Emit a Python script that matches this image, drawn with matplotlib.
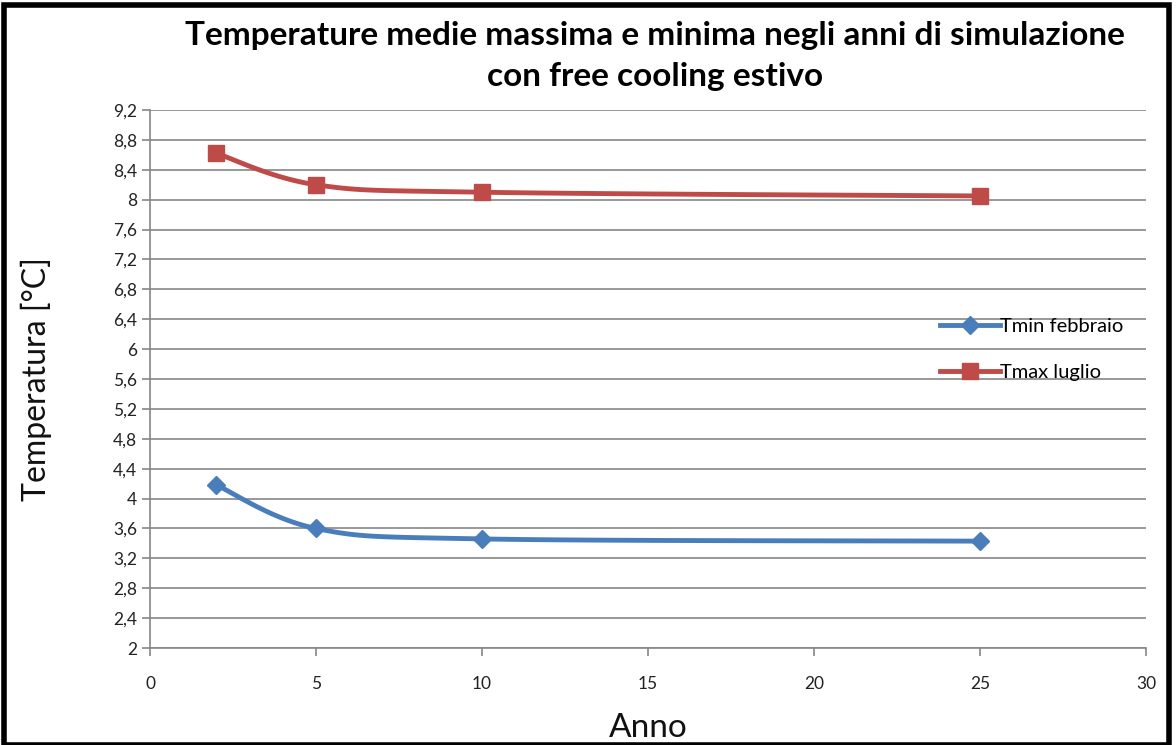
import numpy as np
import matplotlib
matplotlib.use('Agg')
import matplotlib.pyplot as plt
from matplotlib.ticker import FuncFormatter, MultipleLocator
from matplotlib.patches import Rectangle

# Dati
anni = [2, 5, 10, 25]
tmin_febbraio = [4.18, 3.60, 3.46, 3.43]
tmax_luglio = [8.62, 8.20, 8.10, 8.05]

BLU = '#4a7ebb'
ROSSO = '#be4b48'
GRIGIO = '#868686'


def curva_liscia(x, y, n=40):
    """Curva smussata stile Excel (Bezier con tangenti Catmull-Rom)"""
    p = np.column_stack([x, y]).astype(float)
    pts = []
    for i in range(len(p) - 1):
        p0 = p[i - 1] if i > 0 else p[i]
        p1, p2 = p[i], p[i + 1]
        p3 = p[i + 2] if i + 2 < len(p) else p[i + 1]
        c1 = p1 + (p2 - p0) / 6
        c2 = p2 - (p3 - p1) / 6
        t = np.linspace(0, 1, n)[:, None]
        seg = ((1 - t) ** 3) * p1 + 3 * ((1 - t) ** 2) * t * c1 + 3 * (1 - t) * t ** 2 * c2 + t ** 3 * p2
        pts.append(seg)
    pts = np.vstack(pts)
    return pts[:, 0], pts[:, 1]


plt.rcParams['font.family'] = ['Lato', 'DejaVu Sans']

fig = plt.figure(figsize=(11.76, 7.45), dpi=100)
ax = fig.add_axes([0.1276, 0.1302, 0.8469, 0.7221])

for xs, ys, col, mk, ms, lab in [
    (anni, tmin_febbraio, BLU, 'D', 9, 'Tmin febbraio'),
    (anni, tmax_luglio, ROSSO, 's', 11, 'Tmax luglio'),
]:
    cx, cy = curva_liscia(xs, ys)
    ax.plot(cx, cy, color=col, lw=3.5, solid_capstyle='round', zorder=3)
    ax.plot(xs, ys, linestyle='none', marker=mk, markersize=ms, color=col, zorder=4)
    ax.plot([], [], color=col, lw=3.5, marker=mk, markersize=ms, label=lab)

ax.set_xlim(0, 30)
ax.set_ylim(2, 9.2)
ax.xaxis.set_major_locator(MultipleLocator(5))
ax.yaxis.set_major_locator(MultipleLocator(0.4))
ax.yaxis.set_major_formatter(FuncFormatter(lambda v, p: ('%.1f' % v).rstrip('0').rstrip('.').replace('.', ',')))

ax.grid(axis='y', color=GRIGIO, lw=1.2)
ax.set_axisbelow(True)
for s in ['top', 'right']:
    ax.spines[s].set_visible(False)
for s in ['left', 'bottom']:
    ax.spines[s].set_color(GRIGIO)
    ax.spines[s].set_linewidth(1.2)
ax.tick_params(axis='both', colors=GRIGIO, labelcolor='#222222', labelsize=12.5,
               length=6, width=1.2)
ax.tick_params(axis='x', pad=14)

ax.set_xlabel('Anno', fontsize=24, color='#111111', labelpad=15)
ax.set_ylabel('Temperatura [°C]', fontsize=23, color='#111111', labelpad=44)

fig.text(0.557, 0.952, 'Temperature medie massima e minima negli anni di simulazione',
         ha='center', va='center', fontsize=24, fontweight='bold')
fig.text(0.557, 0.897, 'con free cooling estivo',
         ha='center', va='center', fontsize=24, fontweight='bold')

ax.legend(loc='center left', bbox_to_anchor=(0.775, 0.555), frameon=False,
          fontsize=14.5, handlelength=3, handletextpad=0, labelspacing=1.45)

# cornice nera
fig.patches.append(Rectangle((0.003, 0.0), 0.991, 0.993, transform=fig.transFigure,
                             fill=False, edgecolor='black', lw=4))

fig.savefig('out.png', dpi=100)
